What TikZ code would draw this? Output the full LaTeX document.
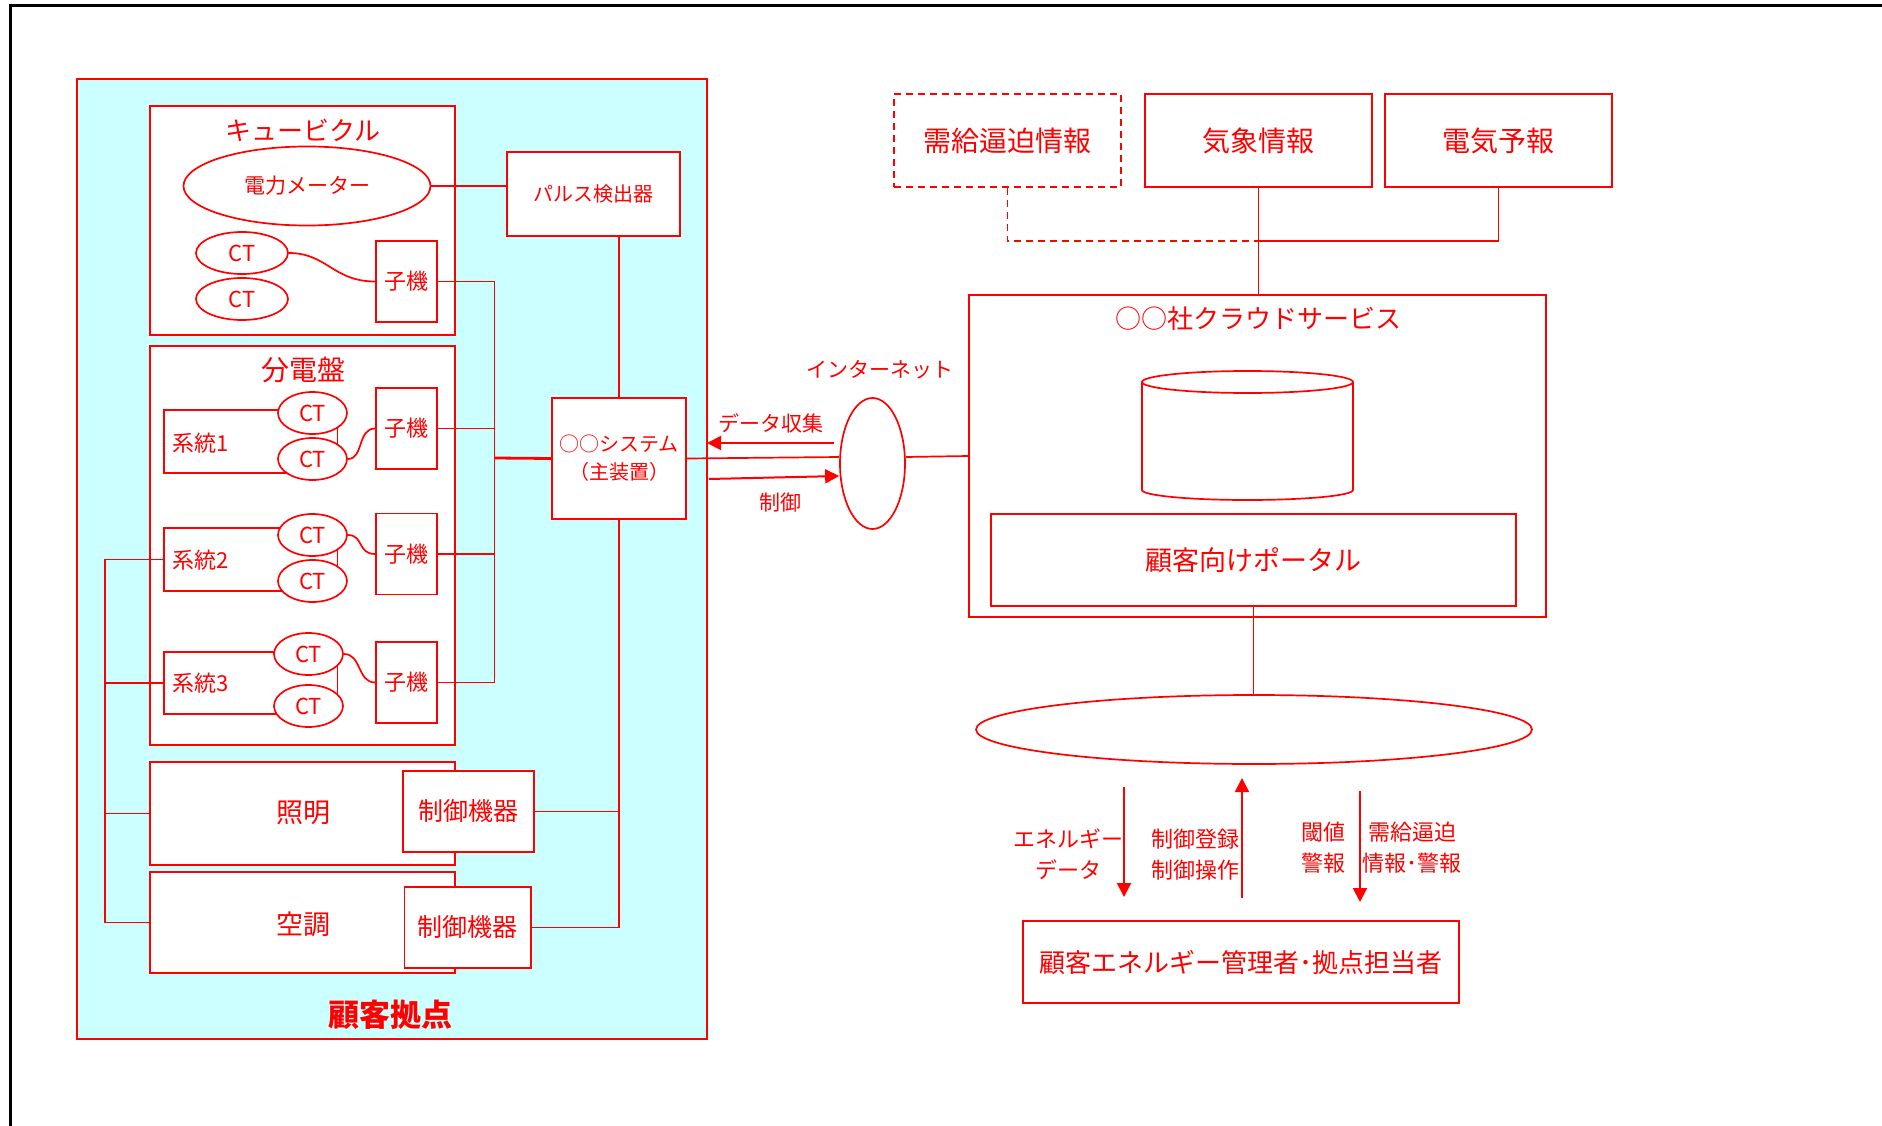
\documentclass[tikz,border=0pt]{standalone}
\usepackage{fontspec}
\setmainfont{Noto Sans CJK JP}
\usetikzlibrary{shapes.geometric,arrows.meta}
\definecolor{sitecyan}{HTML}{CCFFFF}
\newcommand\fsz[2]{\fontsize{#1}{#2}\selectfont}
\tikzset{
 rl/.style={draw=red, line width=1.7pt},
 bx/.style={rectangle, draw=red, line width=1.7pt, fill=white, text=red, inner sep=0pt},
 el/.style={ellipse, draw=red, line width=1.7pt, fill=white, text=red, inner sep=0pt},
 ctel/.style={el, minimum width=69pt, minimum height=42pt, font=\fsz{22}{26}},
 kobox/.style={bx, minimum width=61pt, minimum height=81pt, font=\fsz{22}{26}},
 lbl/.style={text=red, inner sep=0pt},
 arr/.style={draw=red, line width=2pt, -{Triangle[length=14pt,width=14pt]}},
}
\begin{document}
\begin{tikzpicture}[x=1pt,y=-1pt]
\useasboundingbox (0,0) rectangle (1882,1126);
% outer frame (cropped)
\draw[black, line width=3pt] (10,1126) -- (10,6) -- (1882,6);

% customer site
\node[rectangle, draw=red, line width=1.7pt, fill=sitecyan, minimum width=630pt, minimum height=960pt, inner sep=0pt] (site) at (392,559) {};
\node[lbl, font=\fsz{31}{36}\bfseries] (sitelbl) at (390,1015) {顧客拠点};

% cubicle
\node[bx, minimum width=305pt, minimum height=229pt] (cub) at (302.5,220.5) {};
\node[lbl, font=\fsz{26}{30}] (cubt) at (303,130) {キュービクル};
\node[el, minimum width=247pt, minimum height=79pt, font=\fsz{21}{25}] (meter) at (307,186) {電力メーター};
\node[bx, minimum width=173pt, minimum height=84pt, font=\fsz{20}{24}] (pulse) at (593.5,194) {パルス検出器};
\node[ctel, minimum width=92pt] (ctA1) at (242,253) {CT};
\node[ctel, minimum width=92pt] (ctA2) at (242,299) {CT};
\node[kobox] (koA) at (406.5,281.5) {子機};

% distribution panel
\node[bx, minimum width=305pt, minimum height=399pt] (panel) at (302.5,545.5) {};
\node[lbl, font=\fsz{28}{32}] (panelt) at (303,370) {分電盤};

\node[bx, minimum width=173.5pt, minimum height=63pt] (sys1) at (250.75,441.5) {};
\node[lbl, anchor=west, font=\fsz{22}{26}] (sys1t) at (172,443) {系統1};
\node[ctel] (ct11) at (312.5,413) {CT};
\node[ctel] (ct12) at (312.5,459) {CT};
\node[kobox] (ko1) at (406.5,428.5) {子機};

\node[bx, minimum width=173.5pt, minimum height=63pt] (sys2) at (250.75,559.5) {};
\node[lbl, anchor=west, font=\fsz{22}{26}] (sys2t) at (172,560) {系統2};
\node[ctel] (ct21) at (312.5,535) {CT};
\node[ctel] (ct22) at (312.5,581) {CT};
\node[kobox] (ko2) at (406.5,554) {子機};

\node[bx, minimum width=173.5pt, minimum height=62pt] (sys3) at (250.75,683) {};
\node[lbl, anchor=west, font=\fsz{22}{26}] (sys3t) at (172,683) {系統3};
\node[ctel] (ct31) at (308.5,654) {CT};
\node[ctel] (ct32) at (308.5,706) {CT};
\node[kobox] (ko3) at (406.5,682.5) {子機};

% lighting / air conditioning
\node[bx, minimum width=305pt, minimum height=103pt] (light) at (302.5,813.5) {};
\node[lbl, font=\fsz{27}{31}] (lightt) at (303,813) {照明};
\node[bx, minimum width=131pt, minimum height=81pt, font=\fsz{25}{29}] (ctrl1) at (468.5,811.5) {制御機器};
\node[bx, minimum width=305pt, minimum height=101pt] (air) at (302.5,922.5) {};
\node[lbl, font=\fsz{27}{31}] (airt) at (303,924) {空調};
\node[bx, minimum width=126.5pt, minimum height=81pt, font=\fsz{25}{29}] (ctrl2) at (467.75,927.5) {制御機器};

% main system
\node[bx, minimum width=134pt, minimum height=121pt, align=center, font=\fsz{20}{28}] (sys) at (619,458.5) {○○システム\\（主装置）};

% connectors inside site
\draw[rl] (meter.east) -- (meter.east -| pulse.west);
\draw[rl] (ctA1.east) .. controls +(38,0) and +(-42,0) .. (koA.west);
\draw[rl] (ct12.east) .. controls +(16,0) and +(-18,0) .. (ko1.west);
\draw[rl] (ct21.east) .. controls +(16,0) and +(-18,0) .. (ko2.west);
\draw[rl] (ct31.east) .. controls +(18,0) and +(-18,0) .. (ko3.west);

\coordinate (busR) at (494.5,458);
\draw[rl] (koA.east) -- (koA.east -| busR) -- (ko3.east -| busR) -- (ko3.east);
\draw[rl] (ko1.east) -- (ko1.east -| busR);
\draw[rl] (ko2.east) -- (ko2.east -| busR);
\draw[draw=red, line width=2.8pt] (sys.west) -- (busR);

\coordinate (busL) at (105,559.5);
\draw[rl] (sys2.west) -- (busL) -- (busL |- air.west) -- (air.west);
\draw[rl] (sys3.west) -- (sys3.west -| busL);
\draw[rl] (light.west) -- (light.west -| busL);

\draw[rl] (sys.north) -- (sys.north |- pulse.south);
\coordinate (busS) at (619,927.5);
\draw[rl] (sys.south) -- (busS) -- (ctrl2.east);
\draw[rl] (ctrl1.east) -- (ctrl1.east -| busS);

% internet
\node[el, minimum width=65pt, minimum height=131pt] (inet) at (872.5,463.5) {};
\node[lbl, font=\fsz{21}{25}] (inett) at (880,370) {インターネット};
\draw[rl] (sys.east) -- (inet.west |- 0,457);
\coordinate (dcS) at (834,443);
\coordinate (dcE) at (707,443);
\draw[arr] (dcS) -- (dcE);
\node[lbl, font=\fsz{21}{25}] (dct) at (771,423) {データ収集};
\coordinate (ctS) at (709,479);
\draw[arr] (ctS) -- (inet.west |- 0,476);
\node[lbl, font=\fsz{21}{25}] (ctt) at (780,503) {制御};

% cloud
\node[bx, minimum width=577pt, minimum height=322pt] (cloud) at (1257.5,456) {};
\node[lbl, font=\fsz{26}{30}] (cloudt) at (1258,319) {○○社クラウドサービス};
\draw[rl] (inet.east |- 0,457) -- (cloud.west |- 0,456);
% database cylinder
\draw[rl, fill=white] (1142,382) -- (1142,490) arc[start angle=180, end angle=0, x radius=105.5, y radius=10] -- (1353,382);
\draw[rl, fill=white] (1247.5,382) ellipse[x radius=105.5, y radius=11];
\node[bx, minimum width=525pt, minimum height=92pt, font=\fsz{27}{31}] (portal) at (1253.5,560) {顧客向けポータル};

% info sources
\node[bx, dash pattern=on 7pt off 5pt, minimum width=227pt, minimum height=93pt, font=\fsz{28}{32}] (jukyu) at (1007.5,140.5) {需給逼迫情報};
\node[bx, minimum width=227pt, minimum height=93pt, font=\fsz{28}{32}] (kisho) at (1258.5,140.5) {気象情報};
\node[bx, minimum width=227pt, minimum height=93pt, font=\fsz{28}{32}] (denki) at (1498.5,140.5) {電気予報};
\coordinate (join) at (1258,241);
\draw[rl] (kisho.south) -- (kisho.south |- cloud.north);
\draw[draw=red, line width=1.7pt, dash pattern=on 7pt off 5pt] (jukyu.south) -- (jukyu.south |- join) -- (join);
\draw[rl] (denki.south) -- (denki.south |- join) -- (join);

% customer users
\node[el, minimum width=556pt, minimum height=69pt] (net2) at (1254,729.5) {};
\draw[rl] (portal.south) -- (portal.south |- net2.north);
\node[bx, minimum width=436.5pt, minimum height=82pt, font=\fsz{26}{30}] (user) at (1241,962) {顧客エネルギー管理者･拠点担当者};

\coordinate (a1s) at (1124,787); \coordinate (a1e) at (1124,897);
\coordinate (a2s) at (1242,898); \coordinate (a2e) at (1242,778);
\coordinate (a3s) at (1360,791); \coordinate (a3e) at (1360,902);
\draw[arr] (a1s) -- (a1e);
\draw[arr] (a2s) -- (a2e);
\draw[arr] (a3s) -- (a3e);
\node[lbl, align=center, font=\fsz{22}{31}] (l1) at (1068,854.5) {エネルギー\\データ};
\node[lbl, align=left, anchor=west, font=\fsz{22}{31}] (l2) at (1151,855) {制御登録\\制御操作};
\node[lbl, align=center, font=\fsz{22}{31}] (l3) at (1323,847.5) {閾値\\警報};
\node[lbl, align=center, font=\fsz{22}{31}] (l4) at (1412,847.5) {需給逼迫\\情報･警報};
\end{tikzpicture}
\end{document}
